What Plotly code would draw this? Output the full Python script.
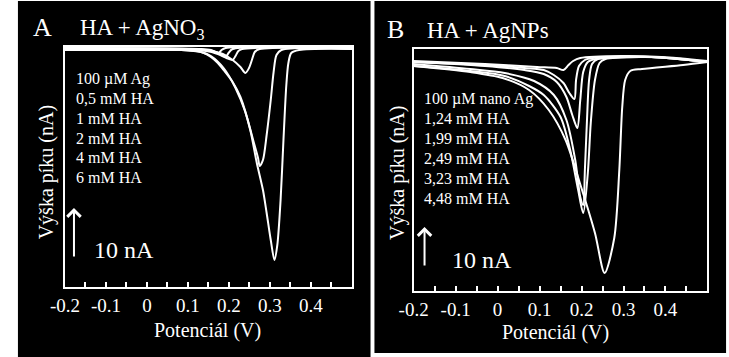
import plotly.graph_objects as go

W, H = 729, 357

# ---------------- Panel A: HA + AgNO3 (potential V, current nA) ----------------
a_labels = ["100 µM Ag", "0,5 mM HA", "1 mM HA", "2 mM HA", "4 mM HA", "6 mM HA"]

a1_x = [-0.2, -0.035, 0.084, 0.12, 0.139, 0.156, 0.173, 0.187, 0.209, 0.228, 0.252, 0.268, 0.283, 0.292,
        0.302, 0.311, 0.318, 0.326, 0.333, 0.34, 0.345, 0.352, 0.371, 0.5]
a1_y = [-0.6, -0.6, -0.6, -0.8, -1.2, -2.0, -3.2, -4.6, -7.0, -10.0, -16.6, -23.2, -28.6, -33.2,
        -38.6, -42.6, -39.6, -30.6, -18.6, -7.6, -3.2, -1.2, -0.6, -0.4]

a2_x = [-0.2, 0.084, 0.132, 0.156, 0.187, 0.216, 0.24, 0.259, 0.271, 0.275, 0.283, 0.292, 0.302, 0.309,
        0.316, 0.328, 0.5]
a2_y = [-0.4, -0.6, -1.0, -1.8, -4.2, -8.2, -13.0, -18.6, -22.2, -23.8, -22.6, -17.6, -10.6, -5.0,
        -1.6, -0.6, -0.4]

a3_x = [-0.2, 0.108, 0.156, 0.185, 0.209, 0.228, 0.24, 0.249, 0.256, 0.263, 0.275, 0.5]
a3_y = [-0.2, -0.4, -0.8, -1.4, -2.6, -4.0, -5.2, -4.2, -2.6, -1.0, -0.4, -0.2]

a4_x = [-0.2, 0.132, 0.156, 0.168, 0.175, 0.182, 0.192, 0.5]
a4_y = [-0.2, -0.4, -0.6, -1.0, -1.2, -0.6, -0.2, -0.1]

a5_x = [-0.2, 0.144, 0.168, 0.182, 0.192, 0.199, 0.209, 0.5]
a5_y = [-0.4, -0.6, -1.0, -1.6, -2.0, -1.2, -0.4, -0.2]

a6_x = [-0.2, 0.144, 0.173, 0.194, 0.209, 0.216, 0.223, 0.232, 0.5]
a6_y = [-0.4, -0.8, -1.4, -2.2, -2.6, -1.8, -0.8, -0.4, -0.2]

# ---------------- Panel B: HA + AgNPs ----------------
b_labels = ["100 µM nano Ag", "1,24 mM HA", "1,99 mM HA", "2,49 mM HA", "3,23 mM HA", "4,48 mM HA"]

b1_x = [-0.2, -0.065, 0.012, 0.075, 0.122, 0.162, 0.199, 0.232, 0.255, 0.278, 0.29, 0.297, 0.304,
        0.316, 0.344, 0.442, 0.5]
b1_y = [-4.25, -5.75, -7.25, -10.25, -15.25, -22.75, -34.5, -46.0, -56.0, -47.25, -30.25, -14.5, -7.75,
        -5.5, -5.0, -4.0, -3.25]

b2_x = [-0.2, -0.065, 0.017, 0.075, 0.11, 0.15, 0.173, 0.192, 0.204, 0.215, 0.222, 0.232, 0.243,
        0.257, 0.344, 0.414, 0.5]
b2_y = [-4.25, -5.5, -6.75, -9.25, -11.5, -17.0, -25.25, -35.25, -41.0, -31.0, -18.5, -7.75, -3.5,
        -2.5, -2.0, -2.25, -3.25]

b3_x = [-0.2, -0.065, 0.017, 0.087, 0.134, 0.164, 0.185, 0.197, 0.204, 0.208, 0.213, 0.218, 0.225,
        0.239, 0.367, 0.5]
b3_y = [-3.75, -5.0, -6.0, -8.0, -11.5, -17.75, -27.75, -37.0, -39.0, -30.25, -17.75, -7.75, -3.75,
        -2.5, -2.0, -3.25]

b4_x = [-0.2, -0.03, 0.064, 0.11, 0.141, 0.164, 0.178, 0.19, 0.197, 0.204, 0.215, 0.234, 0.367, 0.5]
b4_y = [-3.25, -4.25, -5.25, -6.25, -8.25, -12.0, -16.5, -19.75, -12.75, -5.75, -3.25, -2.5, -2.0, -3.25]

b5_x = [-0.2, -0.03, 0.064, 0.11, 0.134, 0.157, 0.171, 0.183, 0.187, 0.194, 0.208, 0.227, 0.367, 0.5]
b5_y = [-3.25, -4.0, -4.75, -5.25, -6.5, -8.5, -11.0, -12.5, -7.75, -4.25, -2.75, -2.25, -2.0, -3.25]

b6_x = [-0.2, -0.03, 0.094, 0.141, 0.157, 0.169, 0.18, 0.197, 0.297, 0.39, 0.5]
b6_y = [-3.0, -3.75, -4.5, -4.75, -5.25, -4.0, -3.0, -2.25, -1.75, -2.0, -3.0]

# ---------------- axis ticks ----------------
tick_vals = [-0.2, -0.15, -0.1, -0.05, 0.0, 0.05, 0.1, 0.15, 0.2, 0.25, 0.3, 0.35, 0.4, 0.45, 0.5]
tick_text = ["-0.2", "", "-0.1", "", "0", "", "0.1", "", "0.2", "", "0.3", "", "0.4", "", ""]

SERIF = "Liberation Serif"

fig = go.Figure()

line = dict(color="white", width=2, shape="spline", smoothing=0.8)
for xs, ys in [(a1_x, a1_y), (a2_x, a2_y), (a3_x, a3_y), (a4_x, a4_y), (a5_x, a5_y), (a6_x, a6_y)]:
    fig.add_trace(go.Scatter(x=xs, y=ys, mode="lines", line=line, xaxis="x", yaxis="y",
                             showlegend=False, hoverinfo="skip"))
for xs, ys in [(b1_x, b1_y), (b2_x, b2_y), (b3_x, b3_y), (b4_x, b4_y), (b5_x, b5_y), (b6_x, b6_y)]:
    fig.add_trace(go.Scatter(x=xs, y=ys, mode="lines", line=line, xaxis="x2", yaxis="y2",
                             showlegend=False, hoverinfo="skip"))


def px_x(p):
    return p / W


def px_y(p):
    return 1 - p / H


xcommon = dict(range=[-0.2, 0.5], showline=True, linecolor="white", linewidth=2, mirror=True,
               ticks="inside", ticklen=5, tickwidth=2, tickcolor="white",
               tickmode="array", tickvals=tick_vals, ticktext=tick_text,
               tickfont=dict(family=SERIF, size=19, color="white"),
               showgrid=False, zeroline=False, fixedrange=True)
ycommon = dict(showline=True, linecolor="white", linewidth=2, mirror=True, ticks="",
               showticklabels=False, showgrid=False, zeroline=False, fixedrange=True)

fig.update_layout(
    width=W, height=H,
    margin=dict(l=0, r=0, t=0, b=0),
    paper_bgcolor="white",
    plot_bgcolor="black",
    font=dict(family=SERIF, color="white"),
    xaxis=dict(domain=[px_x(51), px_x(344)], anchor="y", **xcommon),
    yaxis=dict(domain=[px_y(287), px_y(47)], anchor="x", range=[-48, 0], **ycommon),
    xaxis2=dict(domain=[px_x(407), px_x(707)], anchor="y2", **xcommon),
    yaxis2=dict(domain=[px_y(291), px_y(49)], anchor="x2", range=[-60.5, 0], **ycommon),
    shapes=[
        dict(type="rect", xref="paper", yref="paper", x0=px_x(3), x1=px_x(363), y0=px_y(357), y1=px_y(1),
             fillcolor="black", line=dict(width=0), layer="below"),
        dict(type="rect", xref="paper", yref="paper", x0=px_x(367), x1=px_x(726), y0=px_y(353), y1=px_y(1),
             fillcolor="black", line=dict(width=0), layer="below"),
    ],
)

anns = []


def txt(text, px, py, size, xanchor="left", angle=0):
    anns.append(dict(text=text, x=px_x(px), y=px_y(py), xref="paper", yref="paper",
                     xanchor=xanchor, yanchor="middle", showarrow=False, textangle=angle,
                     font=dict(family=SERIF, size=size, color="white")))


# panel headings
txt("A", 28, 28, 26, xanchor="center")
txt("HA + AgNO<sub>3</sub>", 64, 29, 23)
txt("B", 388, 29, 26, xanchor="center")
txt("HA + AgNPs", 419, 30, 23)

# axis titles
txt("Výška píku (nA)", 32, 172, 20, xanchor="center", angle=-90)
txt("Potenciál (V)", 197, 330, 20, xanchor="center")
txt("Výška píku (nA)", 390, 173, 20, xanchor="center", angle=-90)
txt("Potenciál (V)", 552, 332, 20, xanchor="center")

# legend-like labels
for i, lab in enumerate(a_labels):
    txt(lab, 60, 79 + i * 19.7, 16)
for i, lab in enumerate(b_labels):
    txt(lab, 416, 99 + i * 19.8, 16)

# 10 nA scale text
txt("10 nA", 79, 250, 24)
txt("10 nA", 444, 260, 24)

# scale arrows (10 nA long, in data units)
anns.append(dict(x=-0.178, y=-32.2, ax=-0.178, ay=-42.2, xref="x", yref="y", axref="x", ayref="y",
                 showarrow=True, arrowhead=4, arrowsize=1.3, arrowwidth=2, arrowcolor="white", text=""))
anns.append(dict(x=-0.174, y=-44.5, ax=-0.174, ay=-54.5, xref="x2", yref="y2", axref="x2", ayref="y2",
                 showarrow=True, arrowhead=4, arrowsize=1.3, arrowwidth=2, arrowcolor="white", text=""))

fig.update_layout(annotations=anns)

fig.write_html("out.html", config={"displayModeBar": False},
               post_script="document.body.style.margin='0px';")
